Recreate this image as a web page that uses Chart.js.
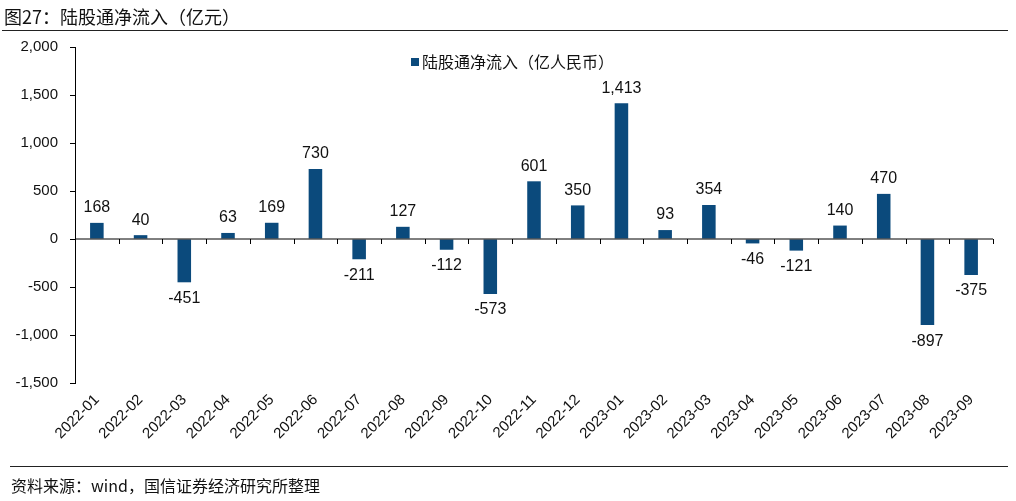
<!DOCTYPE html>
<html>
<head>
<meta charset="utf-8">
<script src="https://cdn.jsdelivr.net/npm/chart.js@4/dist/chart.umd.min.js"></script>
<style>
  body { margin: 0; background: #fff; width: 1016px; height: 501px; overflow: hidden; position: relative; font-family: "Noto Sans CJK SC", sans-serif; }
  #title { position: absolute; left: 4px; top: 4px; font-size: 18px; line-height: 24px; color: #111; }
  #topLine { position: absolute; left: 2px; top: 30px; width: 1006px; height: 0; border-top: 1.5px solid #222; }
  #botLine { position: absolute; left: 10px; top: 466px; width: 998px; height: 0; border-top: 1.5px solid #222; }
  #source { position: absolute; left: 11px; top: 474px; font-size: 16px; line-height: 22px; color: #111; }
  #wrap { position: absolute; left: 0; top: 0; width: 1016px; height: 501px; }
</style>
</head>
<body>
<div id="wrap"><canvas id="myChart"></canvas></div>
<div id="title">图27：陆股通净流入（亿元）</div>
<div id="topLine"></div>
<div id="botLine"></div>
<div id="source">资料来源：wind，国信证券经济研究所整理</div>
<script>
const months = ['2022-01', '2022-02', '2022-03', '2022-04', '2022-05', '2022-06', '2022-07',
    '2022-08', '2022-09', '2022-10', '2022-11', '2022-12', '2023-01', '2023-02', '2023-03',
    '2023-04', '2023-05', '2023-06', '2023-07', '2023-08', '2023-09'];
const netFlow = [168, 40, -451, 63, 169, 730, -211, 127, -112, -573, 601, 350, 1413, 93, 354,
    -46, -121, 140, 470, -897, -375];
const seriesName = '陆股通净流入（亿人民币）';
const barColor = '#0B4A7C';
const numFont = '"Liberation Sans", Arial, sans-serif';

// value labels, zero axis with category ticks, and the in-plot legend
const extras = {
    id: 'extras',
    afterDatasetsDraw(chart) {
        const ctx = chart.ctx;
        const area = chart.chartArea;
        const y0 = chart.scales.y.getPixelForValue(0);
        const meta = chart.getDatasetMeta(0);

        ctx.save();
        ctx.strokeStyle = '#000';
        ctx.lineWidth = 1;
        ctx.beginPath();
        ctx.moveTo(area.left, y0);
        ctx.lineTo(area.right, y0);
        const step = (area.right - area.left) / months.length;
        for (let i = 1; i <= months.length; i++) {
            const x = Math.round(area.left + step * i) + 0.5;
            ctx.moveTo(x, y0);
            ctx.lineTo(x, y0 + 5);
        }
        ctx.stroke();

        ctx.fillStyle = '#111';
        ctx.font = '16px ' + numFont;
        ctx.textAlign = 'center';
        meta.data.forEach((bar, i) => {
            const v = netFlow[i];
            if (v >= 0) {
                ctx.textBaseline = 'bottom';
                ctx.fillText(v.toLocaleString('en-US'), bar.x, bar.y - 7);
            } else {
                ctx.textBaseline = 'top';
                ctx.fillText(v.toLocaleString('en-US'), bar.x, bar.y + 8);
            }
        });

        ctx.fillStyle = barColor;
        ctx.fillRect(411, 58, 8, 8);
        ctx.fillStyle = '#111';
        ctx.font = '16px "Noto Sans CJK SC", sans-serif';
        ctx.textAlign = 'left';
        ctx.textBaseline = 'middle';
        ctx.fillText(seriesName, 422, 62);
        ctx.restore();
    }
};

new Chart(document.getElementById('myChart'), {
    type: 'bar',
    data: {
        labels: months,
        datasets: [{
            label: seriesName,
            data: netFlow,
            backgroundColor: barColor,
            barPercentage: 0.31,
            categoryPercentage: 1.0
        }]
    },
    options: {
        responsive: true,
        maintainAspectRatio: false,
        animation: false,
        layout: { padding: { top: 47, right: 23, bottom: 0, left: 0 } },
        plugins: {
            legend: { display: false },
            tooltip: { enabled: false }
        },
        scales: {
            x: {
                grid: { display: false },
                border: { display: false },
                afterFit(scale) { scale.height = 118; },
                ticks: {
                    maxRotation: 45,
                    minRotation: 45,
                    padding: 0,
                    color: '#111',
                    font: { family: numFont, size: 15 }
                }
            },
            y: {
                min: -1500,
                max: 2000,
                afterFit(scale) { scale.width = 75; },
                grid: { drawOnChartArea: false, drawTicks: true, tickLength: 5, color: '#000' },
                border: { display: true, color: '#000', width: 1 },
                ticks: {
                    stepSize: 500,
                    padding: 12,
                    color: '#111',
                    font: { family: numFont, size: 15 },
                    callback: v => v.toLocaleString('en-US')
                }
            }
        }
    },
    plugins: [extras]
});
</script>
</body>
</html>
